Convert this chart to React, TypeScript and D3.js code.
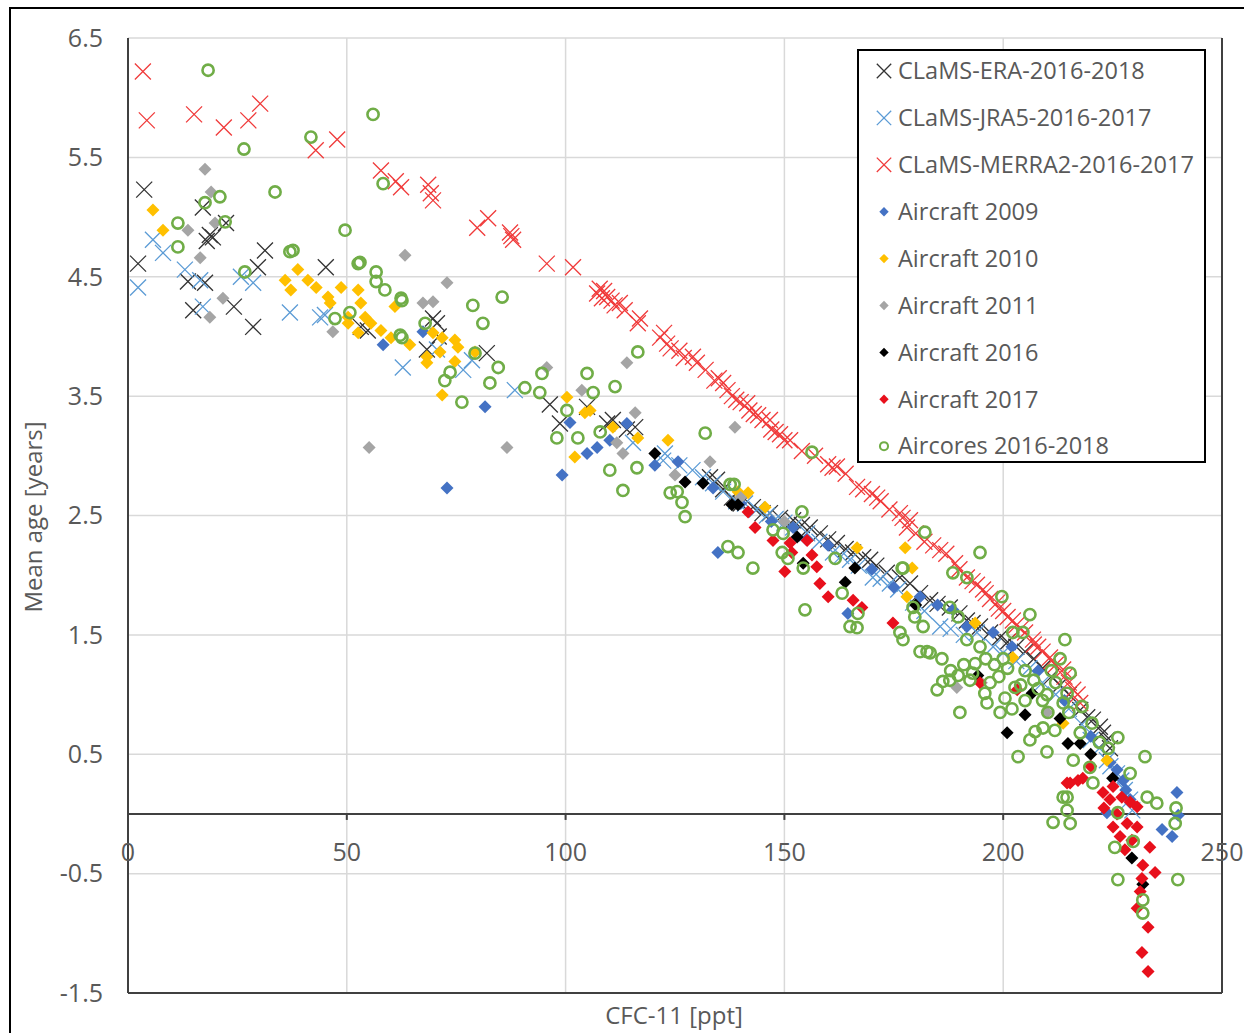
import React from "react";
import * as d3 from "d3";

type P = [number, number];

const era: P[] = [[2.3,4.61],[3.7,5.23],[17.1,5.08],[18.7,4.85],[19.4,4.83],[18,4.80],[22.4,4.95],[29.7,4.58],[31.3,4.72],[45.2,4.58],[13.7,4.46],[17.6,4.45],[14.9,4.22],[24.2,4.25],[28.6,4.08],[53.2,4.08],[54.8,4.05],[69.7,4.15],[70.6,4.11],[68.3,3.89],[71,4.0],[82.0,3.86],[96.4,3.43],[98.7,3.27],[104.9,3.41],[109.5,3.27],[110.8,3.30],[114.0,3.22],[115.9,3.24],[133.0,2.82],[134.6,2.80],[136,2.72],[138.0,2.65],[140,2.60],[142.8,2.57],[145,2.52],[146.7,2.52],[149,2.48],[152.0,2.46],[154,2.42],[155.8,2.40],[158.1,2.35],[160,2.30],[162.0,2.27],[164,2.22],[165.7,2.19],[168,2.15],[169.6,2.13],[171,2.08],[173.4,2.02],[176.4,1.98],[178.7,1.93],[181.0,1.85],[183.3,1.79],[185,1.76],[187.8,1.73],[190,1.68],[191.7,1.62],[193,1.60],[194.7,1.57],[197,1.52],[199.3,1.48],[201,1.44],[203,1.40],[205,1.36],[207,1.30],[209,1.22],[211,1.15],[213,1.08],[215,1.00],[217.6,0.87],[219.2,0.81],[220.5,0.79],[222.1,0.73],[222.8,0.68],[223.7,0.62],[224.4,0.55]];

const jra: P[] = [[2.3,4.41],[5.7,4.81],[8.0,4.70],[13.0,4.56],[16.5,4.47],[17.1,4.25],[25.8,4.50],[28.6,4.45],[37.0,4.20],[43.9,4.16],[45,4.18],[62.8,3.74],[70.6,3.89],[76.6,3.72],[78.6,3.80],[88.4,3.55],[115.4,3.11],[122.3,2.96],[122.7,3.02],[126,2.92],[129,2.88],[131.4,2.82],[133.7,2.77],[136,2.70],[139,2.62],[141,2.60],[143.7,2.55],[146,2.50],[148,2.47],[150,2.44],[152.0,2.40],[155.2,2.35],[158,2.28],[161.1,2.19],[163,2.16],[165.0,2.13],[167,2.08],[170.2,1.98],[172,1.97],[174.1,1.93],[176,1.88],[179.4,1.77],[182,1.70],[185.6,1.57],[188,1.55],[191,1.50],[194.0,1.52],[197.7,1.40],[200,1.35],[203,1.28],[206,1.22],[209,1.10],[212,1.00],[215,0.88],[218,0.75],[220,0.62],[222,0.55],[223.7,0.45],[224.5,0.40],[226.0,0.34],[227,0.28],[227.8,0.20],[229.0,0.12],[229.5,0.03]];

const merra: P[] = [[3.4,6.22],[4.3,5.81],[15.1,5.86],[21.9,5.75],[27.5,5.81],[30.2,5.95],[42.9,5.56],[47.8,5.65],[57.8,5.39],[61.2,5.30],[62.4,5.25],[68.6,5.27],[69.7,5.14],[69.2,5.20],[79.8,4.91],[82.3,4.99],[87.3,4.87],[88.0,4.81],[87.6,4.84],[95.7,4.61],[101.7,4.58],[107.2,4.36],[107.8,4.40],[108.3,4.32],[109.5,4.33],[108.8,4.38],[110.5,4.30],[111.2,4.26],[112.4,4.28],[113.5,4.22],[116.5,4.11],[117,4.15],[121.6,3.99],[122.5,4.03],[123.2,3.94],[124,3.90],[126,3.88],[127,3.82],[129.1,3.83],[130,3.78],[132,3.72],[134,3.63],[135,3.65],[136,3.61],[137,3.55],[138,3.50],[139,3.47],[140,3.45],[141.5,3.44],[142,3.38],[143,3.35],[144,3.34],[145,3.30],[146.7,3.30],[147,3.22],[148,3.20],[149,3.18],[150,3.13],[151.3,3.13],[154,3.04],[157,3.00],[160,2.93],[161,2.90],[162,2.91],[164,2.85],[166.6,2.74],[168,2.72],[170,2.68],[171.2,2.65],[172,2.62],[174,2.55],[176.4,2.52],[177,2.48],[178,2.40],[178.7,2.46],[180,2.35],[182,2.28],[184,2.25],[185.6,2.21],[187,2.18],[189,2.10],[190,2.05],[191.7,1.98],[193,1.95],[194,1.92],[195.4,1.88],[196,1.85],[197,1.80],[198.6,1.77],[199,1.72],[200,1.70],[201,1.65],[202.2,1.62],[203,1.58],[204,1.55],[205,1.52],[206.8,1.46],[207,1.42],[208,1.40],[209,1.36],[210.7,1.31],[211,1.28],[212,1.25],[213.7,1.21],[214,1.15],[215,1.10],[216,1.04],[217,1.00],[217.6,0.93]];

const air2009: P[] = [[58.3,3.93],[67.4,4.04],[81.6,3.41],[72.9,2.73],[99.2,2.84],[101.0,3.28],[104.9,3.02],[107.2,3.07],[110.1,3.13],[114.0,3.27],[120.4,2.92],[125.7,2.95],[133.7,2.73],[134.8,2.19],[140,2.60],[147,2.45],[152.0,2.40],[155,2.30],[160,2.25],[164.5,1.68],[170,2.05],[175,1.90],[181.0,1.82],[185,1.75],[188.5,1.71],[191.7,1.57],[197.7,1.52],[202,1.40],[208,1.20],[214,0.95],[220,0.65],[224.4,0.43],[226.0,0.37],[227.4,0.28],[228,0.20],[229,0.12],[239.7,0.18],[223.7,0.01],[236.3,-0.13],[238.6,-0.19],[240,-0.01]];

const air2010: P[] = [[5.7,5.06],[8.0,4.89],[35.9,4.47],[37.2,4.39],[38.8,4.56],[41.1,4.47],[43.0,4.41],[45.7,4.33],[46.2,4.28],[48.7,4.41],[50.3,4.16],[52.6,4.39],[53.2,4.28],[54.2,4.16],[55.5,4.11],[57.8,4.05],[60.1,3.99],[61.0,4.25],[52.6,4.03],[50.3,4.11],[64.4,3.93],[69.7,4.03],[71.8,3.99],[74.7,3.97],[75.4,3.91],[68.3,3.83],[68.3,3.78],[71.3,3.87],[74.7,3.79],[79.3,3.87],[71.8,3.51],[100.3,3.49],[104.4,3.36],[105.6,3.38],[110.8,3.24],[116.5,3.15],[102.1,2.99],[123.4,3.13],[139.4,2.70],[141.7,2.69],[145.6,2.57],[166.6,2.23],[177.6,2.23],[179.2,2.06],[178.0,1.82],[193.6,1.60],[202.2,1.31],[213.7,0.76],[223.7,0.45]];

const air2011: P[] = [[17.6,5.40],[19.0,5.21],[13.7,4.89],[19.9,4.95],[16.5,4.66],[21.7,4.32],[18.7,4.16],[46.8,4.04],[63.3,4.68],[55.1,3.07],[72.9,4.45],[67.4,4.28],[69.7,4.29],[86.6,3.07],[95.7,3.74],[103.7,3.55],[114.0,3.78],[115.9,3.36],[111.7,3.11],[113.1,3.02],[138.7,3.24],[133.0,2.95],[125.0,2.84],[140,2.65],[150,2.45],[189.4,1.06],[195,1.10],[210,0.85]];

const air2016: P[] = [[120.4,3.02],[127.3,2.78],[131.4,2.77],[138.0,2.59],[139.4,2.59],[152.9,2.32],[154.3,2.10],[166.1,2.06],[163.9,1.94],[180,1.75],[194.2,1.16],[206.6,1.01],[205.0,0.83],[200.9,0.68],[213.0,0.80],[214.8,0.59],[217.6,0.59],[220,0.50],[225,0.30],[229.4,-0.37],[231.9,-0.59]];

const air2017: P[] = [[141.7,2.53],[143.3,2.40],[147.4,2.29],[151.3,2.27],[151.7,2.19],[150.1,2.03],[155.2,2.29],[156.3,2.17],[157.4,2.07],[158.1,1.93],[160.0,1.82],[165.7,1.79],[167.7,1.73],[174.8,1.60],[194.7,1.10],[203.2,1.04],[214.6,0.26],[215.3,0.26],[217.1,0.28],[218.2,0.30],[222.8,0.18],[225.1,0.23],[224.4,0.12],[227.1,0.14],[229.0,0.10],[230.6,0.06],[225.1,-0.11],[228.3,-0.08],[229.4,-0.22],[230.6,-0.11],[233.5,-0.28],[231.9,-0.43],[234.7,-0.49],[231.7,-0.54],[231.3,-0.65],[230.6,-0.79],[233.1,-0.95],[231.7,-1.16],[233.1,-1.32],[226.7,-0.19],[227.8,-0.30],[220,0.40],[223,0.05],[226,0.0]];

const aircores: P[] = [[18.3,6.23],[56.0,5.86],[26.5,5.57],[41.8,5.67],[58.3,5.28],[33.6,5.21],[21.0,5.17],[17.6,5.12],[11.4,4.95],[22.2,4.96],[11.4,4.75],[49.6,4.89],[37.0,4.71],[37.7,4.72],[52.6,4.61],[53.0,4.62],[56.7,4.54],[56.7,4.46],[58.7,4.39],[62.4,4.32],[26.7,4.54],[47.3,4.15],[50.7,4.20],[62.2,4.01],
[62.6,4.30],[78.8,4.26],[85.5,4.33],[81.1,4.11],[67.9,4.11],[62.6,3.99],[79.3,3.86],[84.6,3.74],[73.6,3.70],[72.4,3.63],[82.7,3.61],[76.3,3.45],[90.7,3.57],[94.1,3.53],[94.6,3.69],[100.3,3.38],[98.0,3.15],[102.8,3.15],[104.9,3.69],[106.3,3.53],[107.9,3.20],[111.3,3.58],[116.5,3.87],[110.1,2.88],[116.3,2.90],[113.1,2.71],[123.9,2.69],
[131.9,3.19],[156.3,3.03],[125.5,2.70],[126.6,2.61],[127.3,2.49],[137.6,2.76],[138.5,2.76],[154.0,2.53],[147.4,2.38],[149.7,2.35],[137.1,2.24],[139.4,2.19],[142.8,2.06],[149.5,2.19],[150.8,2.14],[154.3,2.06],[163.2,1.85],[161.6,2.14],[166.8,1.68],[165.0,1.57],[166.6,1.56],[154.7,1.71],[176.4,1.52],[176.9,2.06],
[182.1,2.36],[194.7,2.19],[188.5,2.02],[177.1,2.06],[191.7,1.98],[199.7,1.82],[206.1,1.67],[202.2,1.52],[204.5,1.52],[214.1,1.46],[179.4,1.73],[179.8,1.65],[181.7,1.57],[181.0,1.36],[182.6,1.36],[187.8,1.73],[189.7,1.65],[191.7,1.46],[194.7,1.40],[177.1,1.46],
[183.3,1.35],[184.9,1.04],[186.2,1.11],[187.8,1.12],[189.7,1.16],[192.4,1.12],[195.8,1.01],[196.3,0.93],[190.1,0.85],[197.0,1.10],[199.3,0.85],[200.4,0.97],[202.7,1.06],[203.4,0.48],[206.1,0.62],[207.3,0.69],[209.1,0.72],[210.2,0.85],[210.0,0.52],[211.8,0.70],[213.7,0.14],[214.6,0.03],[193.6,1.26],
[215.3,1.18],[214.6,1.01],[213.7,0.93],[220.3,0.76],[217.6,0.68],[216.0,0.45],[219.8,0.39],[220.5,0.26],[214.6,0.14],[226.2,0.64],[232.4,0.48],[229.0,0.34],[232.9,0.14],[235.1,0.09],[226.2,0.01],
[211.4,-0.07],[215.3,-0.08],[225.5,-0.28],[229.7,-0.23],[226.2,-0.55],[239.9,-0.55],[231.9,-0.72],[231.9,-0.83],[239.3,-0.08],[239.5,0.05],
[198,1.25],[200,1.30],[205,1.20],[208,1.05],[210,1.00],[212,1.10],[205,0.95],[202,0.88],[215,0.85],[218,0.90],[222,0.60],[224,0.55],[211,1.20],[213,1.30],
[186,1.30],[188,1.20],[191,1.25],[193,1.18],[196,1.30],[199,1.15],[201,1.22],[204,1.08],[207,1.12],[209,0.95]];

const xTicks = [0, 50, 100, 150, 200, 250];
const yTicks = [-1.5, -0.5, 0.5, 1.5, 2.5, 3.5, 4.5, 5.5, 6.5];

const legendLabels = [
  "CLaMS-ERA-2016-2018",
  "CLaMS-JRA5-2016-2017",
  "CLaMS-MERRA2-2016-2017",
  "Aircraft 2009",
  "Aircraft 2010",
  "Aircraft 2011",
  "Aircraft 2016",
  "Aircraft 2017",
  "Aircores 2016-2018",
];

type Kind = "x" | "d" | "o";
const series: { data: P[]; kind: Kind; color: string }[] = [
  { data: era, kind: "x", color: "#333333" },
  { data: jra, kind: "x", color: "#5b9bd5" },
  { data: merra, kind: "x", color: "#f03a3a" },
  { data: air2009, kind: "d", color: "#4472c4" },
  { data: air2010, kind: "d", color: "#ffc000" },
  { data: air2011, kind: "d", color: "#a5a5a5" },
  { data: air2016, kind: "d", color: "#000000" },
  { data: air2017, kind: "d", color: "#e8101c" },
  { data: aircores, kind: "o", color: "#70ad47" },
];

const FONT = "'Open Sans', 'Noto Sans', sans-serif";
const TXT = "#595959";
const fmtY = (t: number) => d3.format(".1f")(t).replace("\u2212", "-");

function Marker({ kind, color, s = 1 }: { kind: Kind; color: string; s?: number }) {
  if (kind === "x") {
    const h = 8 * s;
    return <path d={`M${-h},${-h}L${h},${h}M${-h},${h}L${h},${-h}`} stroke={color} strokeWidth={1.3} fill="none" />;
  }
  if (kind === "d") {
    const h = 6.5 * s;
    return <path d={`M0,${-h}L${h},0L0,${h}L${-h},0Z`} fill={color} />;
  }
  return <circle r={5.6 * s} fill="none" stroke={color} strokeWidth={2.6 * Math.max(s, 0.8)} />;
}

export default function App() {
  const W = 1244, H = 1033;
  const x = d3.scaleLinear().domain([0, 250]).range([128, 1222]);
  const y = d3.scaleLinear().domain([-1.5, 6.5]).range([993, 38]);

  const legX = 858, legY = 50, legW = 347, legH = 412;
  const rowH = 46.9;

  return (
    <svg width={W} height={H} style={{ position: "absolute", left: 0, top: 0, background: "#fff" }} fontFamily={FONT}>
      <rect x={0} y={0} width={W} height={H} fill="#fff" />
      <rect x={10} y={8} width={1300} height={1100} fill="none" stroke="#000" strokeWidth={2} />
      {yTicks.map((t) => (
        <line key={"gy" + t} x1={x(0)} x2={x(250)} y1={y(t)} y2={y(t)} stroke="#d9d9d9" strokeWidth={1.5} />
      ))}
      {xTicks.map((t) => (
        <line key={"gx" + t} x1={x(t)} x2={x(t)} y1={y(6.5)} y2={y(-1.5)} stroke="#d9d9d9" strokeWidth={1.5} />
      ))}
      <line x1={x(0)} x2={x(0)} y1={y(6.5)} y2={y(-1.5)} stroke="#404040" strokeWidth={2} />
      <line x1={x(250)} x2={x(250)} y1={y(6.5)} y2={y(-1.5)} stroke="#404040" strokeWidth={2} />
      <line x1={x(0)} x2={x(250)} y1={y(-1.5)} y2={y(-1.5)} stroke="#404040" strokeWidth={2} />
      <line x1={x(0)} x2={x(250)} y1={y(0)} y2={y(0)} stroke="#404040" strokeWidth={2} />
      {xTicks.map((t) => (
        <line key={"tx" + t} x1={x(t)} x2={x(t)} y1={y(0)} y2={y(0) + 6} stroke="#404040" strokeWidth={2} />
      ))}
      {yTicks.map((t) => (
        <text key={"ly" + t} x={103} y={y(t)} dy="0.35em" textAnchor="end" fontSize={25} fill={TXT}>
          {fmtY(t)}
        </text>
      ))}
      {xTicks.map((t) => (
        <text key={"lx" + t} x={x(t)} y={y(0) + 38} dy="0.35em" textAnchor="middle" fontSize={25} fill={TXT}>
          {t}
        </text>
      ))}
      <text x={674} y={1016} dy="0.35em" textAnchor="middle" fontSize={24} fill={TXT}>
        CFC-11 [ppt]
      </text>
      <text transform="translate(34,517) rotate(-90)" dy="0.35em" textAnchor="middle" fontSize={24} fill={TXT}>
        Mean age [years]
      </text>
      {series.map((s, i) => (
        <g key={"s" + i}>
          {s.data.map((p, j) => (
            <g key={j} transform={`translate(${x(p[0])},${y(p[1])})`}>
              <Marker kind={s.kind} color={s.color} />
            </g>
          ))}
        </g>
      ))}
      <rect x={legX} y={legY} width={legW} height={legH} fill="#fff" stroke="#000" strokeWidth={2} />
      {series.map((s, i) => (
        <g key={"lg" + i} transform={`translate(0,${legY + 21 + i * rowH})`}>
          <g transform={`translate(884,0)`}>
            <Marker kind={s.kind} color={s.color} s={s.kind === "x" ? 0.9 : 0.72} />
          </g>
          <text x={898} y={0} dy="0.35em" fontSize={23.5} fill={TXT}>
            {legendLabels[i]}
          </text>
        </g>
      ))}
    </svg>
  );
}
